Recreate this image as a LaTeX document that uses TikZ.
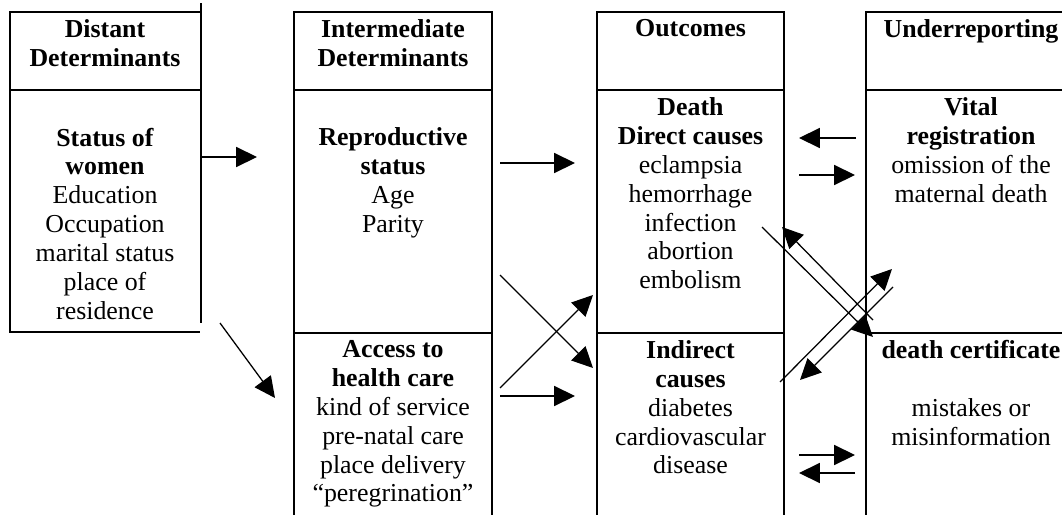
\documentclass[tikz,border=0pt]{standalone}
\usepackage{fontspec}
\setmainfont{Liberation Serif}
\usetikzlibrary{arrows.meta}

\begin{document}
\begin{tikzpicture}[scale=1, every node/.style={scale=1},
	cell/.style={line width=1.3pt},
	arr/.style={-{Triangle[length=0.52cm,width=0.5cm]}, line width=0.9pt},
	txt/.style={anchor=north, align=center, inner sep=0pt, font=\fontsize{18.4}{20.5}\selectfont},
	head/.style={txt, font=\fontsize{18.4}{20.5}\selectfont\bfseries}]
\useasboundingbox (0,0) rectangle (26.55,-12.875);

\draw [cell] (5,-0.3) -- (0.25,-0.3) -- (0.25,-8.3) -- (5,-8.3);
\draw [cell] (0.25,-2.25) -- (5,-2.25);
\draw [cell] (5.03,-0.08) -- (5.03,-8.08);
\foreach \l/\r in {7.35/12.3, 14.925/19.6} {
	\draw [cell] (\l,-12.875) -- (\l,-0.3) -- (\r,-0.3) -- (\r,-12.875);
	\draw [cell] (\l,-2.25) -- (\r,-2.25) (\l,-8.325) -- (\r,-8.325);
}
\draw [cell] (21.65,-12.875) -- (21.65,-0.3) -- (26.6,-0.3);
\draw [cell] (21.65,-2.25) -- (26.6,-2.25) (21.65,-8.325) -- (26.6,-8.325);

\node [head] (distant) at (2.625,-0.4875) {Distant\\Determinants};
\node [head] (inter) at (9.825,-0.4875) {Intermediate\\Determinants};
\node [head] (outcomes) at (17.2625,-0.4875) {Outcomes};
\node [head] (under) at (24.275,-0.4875) {Underreporting};

\node [txt] (women) at (2.625,-3.19) {\textbf{Status of}\\\textbf{women}\\Education\\Occupation\\marital status\\place of\\residence};
\node [txt] (repro) at (9.825,-3.19) {\textbf{Reproductive}\\\textbf{status}\\Age\\Parity};
\node [txt] (access) at (9.825,-8.51) {\textbf{Access to}\\\textbf{health care}\\kind of service\\pre-natal care\\place delivery\\``peregrination''};
\node [txt] (death) at (17.2625,-2.44) {\textbf{Death}\\\textbf{Direct causes}\\eclampsia\\hemorrhage\\infection\\abortion\\embolism};
\node [txt] (indirect) at (17.2625,-8.51) {\textbf{Indirect}\\\textbf{causes}\\diabetes\\cardiovascular\\disease};
\node [txt] (vital) at (24.275,-2.44) {\textbf{Vital}\\\textbf{registration}\\omission of the\\maternal death};
\node [txt] (cert) at (24.275,-8.51) {\textbf{death certificate}\\~\\mistakes or\\misinformation};

\coordinate (wr1) at (5.03,-3.925);  \coordinate (wr2) at (6.425,-3.925);
\coordinate (wa1) at (5.5,-8.075);   \coordinate (wa2) at (6.875,-9.95);
\coordinate (rd1) at (12.5,-4.075);  \coordinate (rd2) at (14.375,-4.075);
\coordinate (ri1) at (12.5,-6.875);  \coordinate (ri2) at (14.825,-9.2);
\coordinate (ad1) at (12.5,-9.7);    \coordinate (ad2) at (14.825,-7.375);
\coordinate (ai1) at (12.5,-9.9);    \coordinate (ai2) at (14.375,-9.9);
\coordinate (vd1) at (21.4,-3.45);   \coordinate (vd2) at (19.975,-3.45);
\coordinate (dv1) at (19.975,-4.375); \coordinate (dv2) at (21.375,-4.375);
\coordinate (dc1) at (19.05,-5.675); \coordinate (dc2) at (21.825,-8.425);
\coordinate (cd1) at (21.825,-8.0);  \coordinate (cd2) at (19.55,-5.675);
\coordinate (iv1) at (19.5,-9.55);   \coordinate (iv2) at (22.3,-6.725);
\coordinate (vi1) at (22.325,-7.175); \coordinate (vi2) at (20.0,-9.5);
\coordinate (ic1) at (19.975,-11.375); \coordinate (ic2) at (21.375,-11.375);
\coordinate (ci1) at (21.375,-11.825); \coordinate (ci2) at (19.975,-11.825);

\foreach \a in {wr,wa,rd,ri,ad,ai,vd,dv,dc,cd,iv,vi,ic,ci}
	\draw [arr] (\a1) -- (\a2);
\end{tikzpicture}
\end{document}
